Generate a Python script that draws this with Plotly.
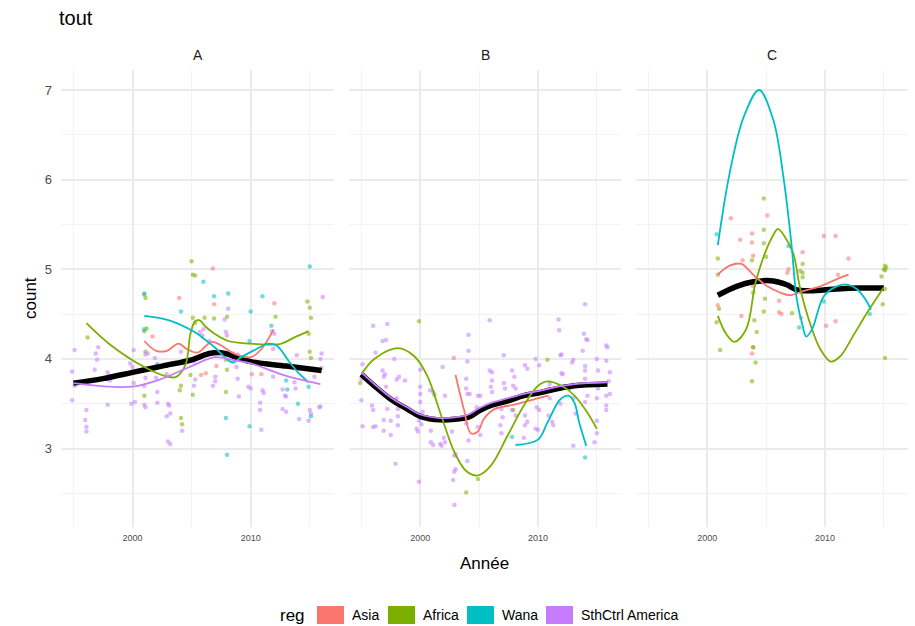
import plotly.graph_objects as go

# ---- axis settings -------------------------------------------------------
FACETS = ["A", "B", "C"]
REGIONS = ["Asia", "Africa", "Wana", "SthCtrl America"]
REGION_COLORS = ["#F8766D", "#7CAE00", "#00BFC4", "#C77CFF"]
YEAR_TICKS = [2000, 2010]
YEAR_MINOR = [1995, 2005, 2015]
COUNT_TICKS = [3, 4, 5, 6, 7]
COUNT_MINOR = [2.5, 3.5, 4.5, 5.5, 6.5]

# ---- observations (year, count) ------------------------------------------
A_asia = [(2001.7, 4.25), (2002.9, 3.83), (2003.95, 4.68), (2005.8, 3.82), (2006.2, 3.84),
          (2006.8, 5.01), (2006.9, 4.61), (2007.1, 3.92), (2010.1, 3.83), (2010.9, 3.83),
          (2012.0, 4.62)]
A_africa = [(1996.2, 4.24), (2001.0, 4.72), (2001.1, 4.68), (2001.2, 4.34), (2001.0, 4.31),
            (2001.1, 4.08), (2001.0, 3.59), (2004.1, 3.70), (2004.0, 3.65), (2004.1, 3.34),
            (2004.2, 3.27), (2005.0, 5.09), (2005.1, 4.94), (2005.3, 4.93), (2005.1, 4.46),
            (2005.3, 4.40), (2005.1, 3.60), (2004.9, 3.82), (2006.1, 4.46), (2006.9, 4.45),
            (2008.0, 4.47), (2007.9, 3.63), (2007.9, 3.99), (2008.0, 3.88), (2012.1, 4.47),
            (2014.8, 4.64), (2015.0, 4.57), (2015.1, 4.46), (2014.9, 4.28), (2015.0, 4.08),
            (2015.1, 4.01)]
A_wana = [(2001.0, 4.73), (2001.0, 4.33), (2002.1, 3.94), (2004.1, 4.53), (2006.0, 4.86),
          (2006.9, 4.70), (2008.1, 4.73), (2011.0, 4.70), (2010.0, 4.53), (2011.75, 4.37),
          (2009.9, 4.20), (2007.9, 3.34), (2009.9, 3.25), (2008.0, 2.93), (2015.0, 5.03),
          (2013.0, 3.76), (2013.1, 3.66), (2014.0, 3.50), (2015.1, 3.36), (2014.9, 3.69)]
A_sthctrl = [(1995.1, 4.10), (1994.9, 3.86), (1994.9, 3.54), (1995.1, 3.70), (1996.1, 3.43),
             (1996.0, 3.32), (1996.1, 3.24), (1996.1, 3.19), (1996.9, 4.06), (1997.1, 4.13),
             (1997.0, 3.99), (1996.8, 3.88), (1997.9, 3.85), (1998.0, 3.81), (1997.8, 3.78),
             (1998.1, 3.76), (1997.9, 3.49), (2000.1, 4.10), (1999.8, 3.95), (2000.0, 3.91),
             (2000.1, 3.73), (1999.9, 3.50), (2000.2, 3.52), (2001.1, 4.05), (2001.3, 4.06),
             (2001.1, 3.79), (2001.0, 3.70), (2001.0, 3.49), (2001.1, 3.46), (2002.0, 3.91),
             (2001.9, 4.01), (2002.1, 3.63), (2002.1, 3.51), (2002.0, 3.79), (2003.0, 3.50),
             (2003.1, 3.48), (2003.2, 3.39), (2002.9, 3.36), (2003.0, 3.08), (2003.2, 3.05),
             (2004.1, 4.08), (2004.2, 3.96), (2004.2, 3.20), (2005.1, 4.00), (2005.2, 3.97),
             (2005.3, 3.77), (2005.2, 3.70), (2008.1, 4.56), (2007.8, 4.44), (2007.9, 4.30),
             (2008.0, 4.26), (2008.0, 4.07), (2008.9, 4.05), (2008.8, 3.91), (2008.9, 3.78),
             (2007.0, 3.80), (2007.0, 3.75), (2006.8, 3.70), (2009.0, 3.58), (2009.8, 3.69),
             (2010.0, 3.67), (2010.8, 3.51), (2010.8, 3.43), (2010.9, 3.21), (2011.0, 3.65),
             (2011.1, 3.62), (2011.8, 4.31), (2012.0, 4.28), (2011.9, 3.80), (2012.7, 3.44),
             (2013.0, 3.41), (2012.7, 3.66), (2012.9, 3.59), (2013.0, 3.58), (2013.8, 3.67),
             (2013.9, 4.04), (2013.7, 3.74), (2014.1, 3.33), (2014.9, 3.31), (2015.0, 3.43),
             (2015.1, 3.39), (2015.8, 3.46), (2015.9, 3.47), (2015.9, 4.00), (2016.0, 4.06),
             (2016.0, 3.90), (2016.1, 4.69), (2015.4, 3.80), (2005.7, 4.30), (2006.0, 4.33),
             (2005.9, 4.26), (2006.5, 4.20), (2008.5, 4.06), (2011.9, 4.11)]

B_asia = [(2002.85, 4.01)]
B_africa = [(1999.9, 4.42), (1994.9, 3.73), (2001.2, 3.60), (2003.9, 2.51), (2004.9, 2.66),
            (2010.8, 3.99), (2007.9, 3.43)]
B_wana = [(2007.8, 3.13), (2014.0, 2.90)]
B_sthctrl = [(1996.0, 4.37), (1997.2, 4.39), (1996.8, 4.20), (1997.1, 4.21), (1996.2, 4.07),
             (1995.1, 3.94), (1995.0, 3.78), (1995.0, 3.54), (1995.1, 3.25), (1995.9, 3.48),
             (1996.0, 3.43), (1996.0, 3.24), (1996.2, 3.25), (1996.8, 3.87), (1997.0, 3.83),
             (1996.9, 3.80), (1997.1, 3.69), (1997.2, 3.44), (1996.9, 3.32), (1996.9, 3.20),
             (1997.5, 3.31), (1997.8, 4.00), (1998.2, 3.80), (1998.0, 3.77), (1998.0, 3.56),
             (1998.1, 3.44), (1998.1, 3.36), (1998.1, 3.26), (1997.9, 2.83), (1997.5, 3.15),
             (1998.7, 3.76), (2000.0, 3.88), (2000.0, 3.69), (2000.0, 3.61), (2000.0, 3.52),
             (2000.2, 3.41), (1999.9, 3.31), (2000.1, 3.27), (1999.7, 3.22), (1999.8, 3.19),
             (1999.9, 2.63), (2000.85, 3.65), (2001.1, 3.63), (2000.9, 3.20), (2000.9, 3.07),
             (2001.1, 3.04), (2001.7, 3.05), (2001.8, 3.03), (2001.9, 3.91), (2002.1, 3.59),
             (2002.0, 3.12), (2002.1, 3.07), (2003.0, 2.94), (2002.9, 2.92), (2003.0, 2.77),
             (2002.9, 2.74), (2002.8, 2.65), (2002.9, 2.37), (2002.7, 3.19), (2004.1, 4.27),
             (2004.1, 4.09), (2004.0, 3.97), (2003.9, 3.78), (2003.9, 3.67), (2004.0, 3.61),
             (2004.2, 3.61), (2003.9, 3.28), (2004.1, 3.09), (2004.0, 2.86), (2004.8, 3.46),
             (2004.9, 3.41), (2004.9, 3.59), (2005.1, 3.59), (2004.9, 3.24), (2005.1, 3.15),
             (2005.9, 4.43), (2007.1, 4.04), (2005.9, 3.87), (2006.1, 3.85), (2006.1, 3.76),
             (2006.0, 3.69), (2006.1, 3.63), (2007.1, 3.73), (2007.2, 3.67), (2006.9, 3.44),
             (2007.0, 3.35), (2006.8, 3.26), (2006.9, 3.17), (2007.8, 3.87), (2008.0, 3.80),
             (2007.9, 3.70), (2008.1, 3.67), (2007.8, 3.43), (2008.1, 3.37), (2008.9, 3.93),
             (2009.1, 3.89), (2008.9, 3.37), (2008.9, 3.26), (2009.1, 3.30), (2008.8, 3.12),
             (2009.8, 4.00), (2010.1, 3.93), (2009.9, 3.46), (2010.1, 3.43), (2009.8, 3.22),
             (2010.0, 3.21), (2010.9, 3.67), (2011.0, 3.72), (2011.0, 3.56), (2010.9, 3.37),
             (2011.2, 3.30), (2011.3, 3.26), (2011.75, 4.44), (2011.8, 4.32), (2011.9, 4.04),
             (2012.0, 4.05), (2012.0, 3.84), (2012.1, 3.83), (2012.0, 3.67), (2011.9, 3.50),
             (2012.9, 3.96), (2013.0, 3.99), (2012.7, 3.67), (2013.0, 3.56), (2013.2, 3.39),
             (2013.0, 3.03), (2014.0, 4.61), (2013.9, 4.28), (2014.1, 4.22), (2014.2, 4.21),
             (2013.8, 4.09), (2014.0, 3.92), (2014.0, 3.87), (2014.0, 3.78), (2014.2, 3.59),
             (2014.0, 3.52), (2015.0, 4.00), (2015.1, 3.87), (2015.1, 3.67), (2015.0, 3.56),
             (2015.0, 3.31), (2015.0, 3.17), (2014.8, 3.07), (2015.8, 4.15), (2015.9, 4.13),
             (2015.8, 3.98), (2016.1, 3.85), (2015.8, 3.59), (2016.1, 3.61), (2015.8, 3.48),
             (2015.8, 3.43), (2016.0, 3.75)]

C_asia = [(2002.0, 5.57), (2003.8, 5.40), (2003.8, 5.30), (2002.8, 5.33), (2003.9, 5.15),
          (2003.0, 5.10), (2005.1, 5.60), (2006.9, 5.00), (2006.8, 4.96), (2007.0, 4.83),
          (2003.9, 4.81), (2000.9, 4.60), (2002.9, 4.48), (2006.0, 4.85), (2006.1, 4.65),
          (2006.1, 4.52), (2006.3, 4.50), (2003.8, 4.06), (2003.9, 4.13), (2007.2, 4.79),
          (2009.9, 5.37), (2010.9, 5.37), (2008.1, 5.19), (2012.0, 5.12), (2011.1, 4.94),
          (2010.1, 4.37), (2010.9, 4.42), (2007.95, 4.46)]
C_africa = [(2004.8, 5.79), (2004.8, 5.44), (2004.8, 5.29), (2003.8, 5.10), (2000.9, 5.12),
            (2000.9, 4.94), (2001.0, 4.56), (2000.8, 4.41), (2001.1, 4.10), (2005.0, 5.14),
            (2003.9, 4.74), (2004.0, 4.43), (2004.2, 4.30), (2003.9, 4.13), (2004.1, 3.96),
            (2003.8, 3.75), (2004.9, 4.67), (2004.8, 4.53), (2007.2, 4.51), (2008.1, 5.06),
            (2007.9, 4.98), (2008.1, 4.96), (2008.1, 4.91), (2015.1, 5.04), (2015.2, 5.02),
            (2015.0, 5.00), (2015.1, 4.99), (2014.8, 4.92), (2015.1, 4.78), (2014.9, 4.61),
            (2015.1, 4.01)]
C_wana = [(2000.8, 5.39), (2006.9, 5.26), (2007.8, 4.35), (2009.9, 4.64), (2013.8, 4.50)]
C_sthctrl = []

# ---- smoothed trends (year, fitted count) ---------------------------------
fitA_all = [(1995, 3.73), (1997.5, 3.78), (2000, 3.85), (2002.5, 3.92), (2005, 3.99),
            (2006.5, 4.06), (2007.5, 4.07), (2009, 4.01), (2010, 3.97), (2013, 3.92),
            (2016, 3.87)]
fitA_asia = [(2001.0, 4.20), (2002.0, 4.09), (2002.9, 4.09), (2003.9, 4.17), (2004.6, 4.11),
             (2005.5, 4.07), (2006.7, 4.19), (2007.5, 4.15), (2008.6, 4.06), (2010.05, 4.02),
             (2010.9, 4.11), (2011.95, 4.33)]
fitA_africa = [(1996.1, 4.40), (1998.2, 4.15), (2001.0, 3.91), (2003.0, 3.80), (2003.7, 3.80),
               (2004.5, 3.94), (2004.9, 4.28), (2005.3, 4.42), (2005.7, 4.43), (2006.1, 4.37),
               (2006.95, 4.28), (2008.1, 4.20), (2010.0, 4.17), (2011.5, 4.16), (2012.6, 4.17),
               (2013.7, 4.24), (2014.9, 4.31)]
fitA_wana = [(2001.0, 4.48), (2003.1, 4.43), (2005.25, 4.30), (2006.1, 4.22), (2006.95, 4.13),
             (2007.8, 4.02), (2008.5, 3.96), (2009.2, 4.02), (2010.2, 4.09), (2011.5, 4.17),
             (2012.2, 4.15), (2013.2, 3.98), (2014.0, 3.85), (2014.9, 3.74)]
fitA_sthctrl = [(1995, 3.73), (1998.1, 3.69), (2000, 3.69), (2002.3, 3.77), (2005, 3.92),
                (2007, 4.02), (2008.8, 3.98), (2010, 3.95), (2012.8, 3.82), (2015.9, 3.72)]

fitB_all = [(1995, 3.83), (1996.1, 3.70), (1997.5, 3.55), (1998.9, 3.44), (2000, 3.36),
            (2001.7, 3.32), (2003.1, 3.33), (2004.1, 3.35), (2005, 3.42), (2006, 3.48),
            (2007.4, 3.53), (2008.8, 3.59), (2010, 3.62), (2011.7, 3.67), (2013.1, 3.70),
            (2015.9, 3.72)]
fitB_asia = [(2003.0, 3.82), (2003.7, 3.44), (2004.3, 3.17), (2004.9, 3.19), (2005.4, 3.33),
             (2006.3, 3.44), (2008.0, 3.49), (2009.7, 3.55), (2010.9, 3.59)]
fitB_africa = [(1995, 3.83), (1996.1, 4.00), (1998.1, 4.12), (1999.5, 4.03), (2000.6, 3.81),
               (2001.7, 3.40), (2002.9, 2.96), (2003.9, 2.75), (2004.9, 2.70), (2006.0, 2.81),
               (2007.4, 3.14), (2008.8, 3.48), (2010.0, 3.70), (2010.8, 3.75), (2012.0, 3.70),
               (2013.1, 3.59), (2014.2, 3.40), (2015.0, 3.22)]
fitB_wana = [(2008.1, 3.04), (2010.0, 3.10), (2010.8, 3.29), (2011.9, 3.55), (2012.6, 3.59),
             (2013.1, 3.51), (2013.5, 3.29), (2014.1, 3.03)]
fitB_sthctrl = [(1995, 3.85), (1996.1, 3.72), (1997.5, 3.57), (1998.9, 3.46), (2000, 3.38),
                (2001.7, 3.34), (2003.1, 3.35), (2004.1, 3.38), (2005, 3.45), (2006, 3.51),
                (2007.4, 3.56), (2008.8, 3.61), (2010, 3.64), (2011.7, 3.69), (2013.1, 3.72),
                (2015.9, 3.74)]

fitC_all = [(2000.9, 4.71), (2002.5, 4.81), (2003.9, 4.86), (2005.6, 4.87), (2006.7, 4.83),
            (2007.6, 4.77), (2008.8, 4.76), (2011.0, 4.78), (2013.0, 4.79), (2015.0, 4.79)]
fitC_asia = [(2000.9, 4.94), (2001.9, 5.04), (2002.9, 5.06), (2003.9, 4.94), (2005.1, 4.81),
             (2006.2, 4.74), (2007.0, 4.71), (2008.2, 4.76), (2009.6, 4.81), (2011.0, 4.89),
             (2012.0, 4.94)]
fitC_africa = [(2000.9, 4.48), (2001.6, 4.28), (2002.3, 4.19), (2003.3, 4.33), (2004.1, 4.85),
               (2004.9, 5.18), (2005.6, 5.38), (2006.0, 5.45), (2006.6, 5.36), (2007.3, 5.18),
               (2007.9, 4.78), (2008.8, 4.37), (2009.6, 4.11), (2010.5, 3.97), (2011.3, 4.03),
               (2012.4, 4.26), (2013.6, 4.52), (2015.0, 4.80)]
fitC_wana = [(2000.9, 5.27), (2001.9, 6.07), (2003.1, 6.70), (2004.4, 7.00), (2005.6, 6.67),
             (2006.5, 6.00), (2007.15, 5.28), (2007.6, 4.67), (2008.1, 4.37), (2008.4, 4.25),
             (2008.9, 4.33), (2009.9, 4.70), (2011.0, 4.81), (2011.9, 4.83), (2012.7, 4.78),
             (2013.4, 4.67), (2013.9, 4.55)]
fitC_sthctrl = []

POINTS = {
    "A": [A_asia, A_africa, A_wana, A_sthctrl],
    "B": [B_asia, B_africa, B_wana, B_sthctrl],
    "C": [C_asia, C_africa, C_wana, C_sthctrl],
}
FITS = {
    "A": (fitA_all, [fitA_asia, fitA_africa, fitA_wana, fitA_sthctrl]),
    "B": (fitB_all, [fitB_asia, fitB_africa, fitB_wana, fitB_sthctrl]),
    "C": (fitC_all, [fitC_asia, fitC_africa, fitC_wana, fitC_sthctrl]),
}

# ---- page geometry ---------------------------------------------------------
W, H = 915, 626
PANEL_X = [(61, 334), (349, 621), (636, 908)]
PANEL_Y = (70, 527)
FONT = "Liberation Sans, Arial, Helvetica, sans-serif"
GRID = "#EBEBEB"
GRID_MINOR = "#F3F3F3"


def px(x):
    return x / W


def py(y):
    return 1 - y / H


fig = go.Figure()

for i, facet in enumerate(FACETS):
    sfx = "" if i == 0 else str(i + 1)
    xa, ya = "x" + sfx, "y" + sfx
    for pts, col in zip(POINTS[facet], REGION_COLORS):
        if not pts:
            continue
        fig.add_trace(go.Scatter(
            x=[p[0] for p in pts], y=[p[1] for p in pts], mode="markers",
            marker=dict(color=col, size=4.5, opacity=0.55, line=dict(width=0)),
            xaxis=xa, yaxis=ya, hoverinfo="skip"))
    overall, per_region = FITS[facet]
    fig.add_trace(go.Scatter(
        x=[p[0] for p in overall], y=[p[1] for p in overall], mode="lines",
        line=dict(color="black", width=5.5, shape="spline", smoothing=1.0),
        xaxis=xa, yaxis=ya, hoverinfo="skip"))
    for fit, col in zip(per_region, REGION_COLORS):
        if not fit:
            continue
        fig.add_trace(go.Scatter(
            x=[p[0] for p in fit], y=[p[1] for p in fit], mode="lines",
            line=dict(color=col, width=1.8, shape="spline", smoothing=1.0),
            xaxis=xa, yaxis=ya, hoverinfo="skip"))

    x0, x1 = PANEL_X[i]
    fig.layout["xaxis" + sfx] = dict(
        domain=[px(x0), px(x1)], range=[1993.95, 2017.05], anchor=ya,
        tickvals=YEAR_TICKS, ticktext=[str(v) for v in YEAR_TICKS],
        tickfont=dict(size=9, color="#4D4D4D", family=FONT), ticks="",
        showgrid=True, gridcolor=GRID, gridwidth=1.6, zeroline=False, showline=False,
        ticklabelstandoff=4,
        minor=dict(tickvals=YEAR_MINOR, showgrid=True, gridcolor=GRID_MINOR, gridwidth=0.9),
        fixedrange=True)
    fig.layout["yaxis" + sfx] = dict(
        domain=[py(PANEL_Y[1]), py(PANEL_Y[0])], range=[2.125, 7.223], anchor=xa,
        tickvals=COUNT_TICKS, ticktext=[str(v) for v in COUNT_TICKS],
        showticklabels=(i == 0),
        tickfont=dict(size=13, color="#4D4D4D", family=FONT), ticks="",
        showgrid=True, gridcolor=GRID, gridwidth=1.6, zeroline=False, showline=False,
        ticklabelstandoff=8,
        minor=dict(tickvals=COUNT_MINOR, showgrid=True, gridcolor=GRID_MINOR, gridwidth=0.9),
        fixedrange=True)

annotations = []


def label(text, x, y, size, color="#000000", xanchor="center", angle=0):
    annotations.append(dict(
        text=text, x=px(x), y=py(y), xref="paper", yref="paper",
        xanchor=xanchor, yanchor="middle", showarrow=False, textangle=angle,
        font=dict(size=size, color=color, family=FONT)))


label("tout", 57, 18, 20, xanchor="left")
for i, facet in enumerate(FACETS):
    x0, x1 = PANEL_X[i]
    label(facet, (x0 + x1) / 2, 55, 14, color="#1A1A1A")
label("count", 30, 298, 17, angle=-90)
label("Année", 484, 563, 17)

# legend: title, colour keys and region names
shapes = []
label("reg", 278, 615, 17, xanchor="left")
key_left = [317, 388, 467, 546]
for name, col, kx in zip(REGIONS, REGION_COLORS, key_left):
    shapes.append(dict(type="rect", xref="paper", yref="paper",
                       x0=px(kx), x1=px(kx + 27), y0=py(624), y1=py(606),
                       fillcolor=col, line=dict(width=0)))
    label(name, kx + 33, 615, 14, xanchor="left")

fig.update_layout(
    width=W, height=H, margin=dict(l=0, r=0, t=0, b=0),
    paper_bgcolor="white", plot_bgcolor="white", showlegend=False,
    annotations=annotations, shapes=shapes,
    font=dict(family=FONT))

fig.write_html("out.html")
